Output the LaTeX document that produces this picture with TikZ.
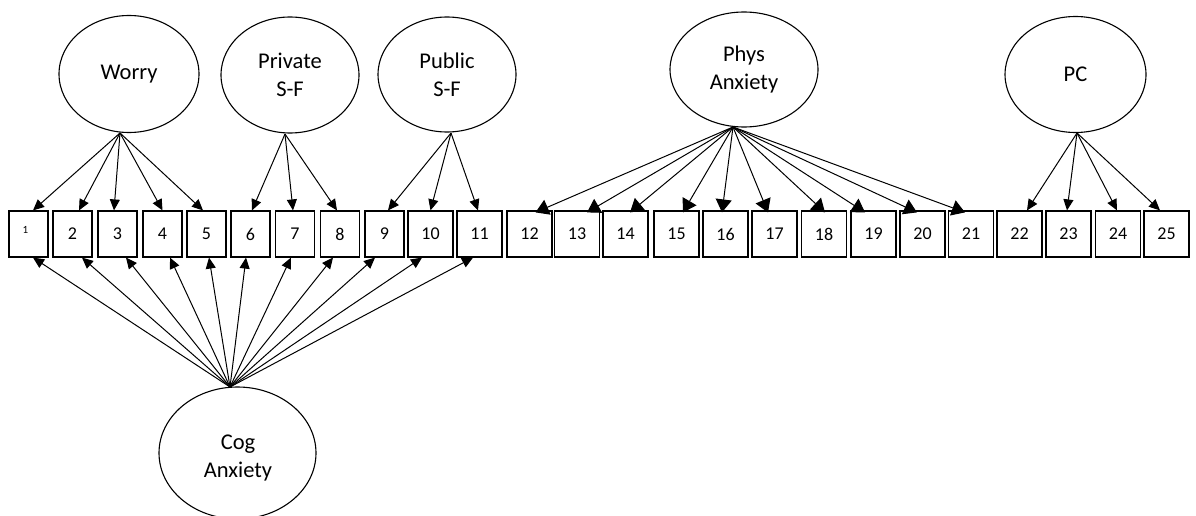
\documentclass[tikz,border=0pt]{standalone}
\usepackage{fontspec}
\setmainfont{Carlito}
\usetikzlibrary{arrows.meta,shapes.geometric}
\begin{document}
\begin{tikzpicture}[x=1pt,y=-1pt,
  latent/.style={draw,ellipse,line width=1.1pt,inner sep=0pt,align=center,font=\fontsize{22.5}{28}\selectfont},
  caption/.style={align=center,inner sep=0pt,font=\fontsize{22.5}{28}\selectfont},
  item/.style={draw,rectangle,line width=1.2pt,inner sep=0pt,minimum height=46pt,font=\fontsize{18}{18}\selectfont},
  narrow/.style={item,minimum width=39pt},
  wide/.style={item,minimum width=45pt},
  load/.style={line width=1pt,-{Triangle[length=11pt,width=10pt]}},
  bigload/.style={line width=1pt,-{Triangle[length=13pt,width=16pt]}}]
\useasboundingbox (0,0) rectangle (1196,516);

% latent factors
\node[latent,minimum width=140pt,minimum height=117pt] (worry) at (129,74) {Worry};
\node[latent,minimum width=138pt,minimum height=116pt] (priv) at (290,75) {Private\\S-F};
\node[latent,minimum width=138pt,minimum height=115pt] (pub) at (447,74.5) {Public\\S-F};
\node[latent,minimum width=148pt,minimum height=115pt] (phys) at (744,69.5) {Phys\\Anxiety};
\node[latent,minimum width=141pt,minimum height=116pt] (pc) at (1075.5,74.5) {PC};
\node[latent,minimum width=157pt,minimum height=132pt] (cog) at (237.5,453) {};
\node[caption] (cogt) at (238,458) {Cog\\Anxiety};

% fan origins
\coordinate (wo) at (120,133);
\coordinate (pro) at (285,134);
\coordinate (puo) at (451,133);
\coordinate (pho) at (733,127);
\coordinate (pco) at (1077,133);
\coordinate (co) at (230,387);

% indicators
\node[narrow] (b1) at (28.5,234) {};
\node[font=\fontsize{11}{11}\selectfont] (b1t) at ([xshift=-3pt,yshift=4pt]b1.center) {1};
\foreach \n/\x in {2/72.5,3/117.5,4/162.5,5/206.5,6/250.5,7/295,8/340,9/384.5}
  \node[narrow] (b\n) at (\x,234) {\n};
\foreach \n/\x in {10/430.5,11/479.5,12/529.5,13/577,14/625.5,15/676.5,16/725.5,17/774.5,18/824,19/873.5,20/922.5,21/971,22/1019.5,23/1068.5,24/1118,25/1166.5}
  \node[wide] (b\n) at (\x,234) {\n};

% loadings
\foreach \n/\d in {1/4.5,2/6.5,3/-3.5,4/0,5/-3.5}
  \draw[load] (wo) -- ([xshift=\d pt]b\n.north);
\foreach \n/\d in {6/1.5,7/-2,8/-3}
  \draw[load] (pro) -- ([xshift=\d pt]b\n.north);
\foreach \n/\d in {9/3.5,10/0,11/-1.5}
  \draw[load] (puo) -- ([xshift=\d pt]b\n.north);
\foreach \n/\d in {12/6,13/10,14/4.5,15/6.5,16/-3.5,17/-6.5,18/1,19/-8.5,20/-5.5,21/-6}
  \draw[bigload] (pho) -- ([xshift=\d pt,yshift=-2pt]b\n.north);
\foreach \n/\d in {22/7.5,23/-1.5,24/-1,25/-6.5}
  \draw[load] (pco) -- ([xshift=\d pt]b\n.north);
\foreach \n/\d in {1/4.5,2/9.5,3/8.5,4/7.5,5/2.5,6/-4.5,7/-4,8/-7,9/-9.5,10/-8.5,11/-6.5}
  \draw[load] (co) -- ([xshift=\d pt]b\n.south);
\end{tikzpicture}
\end{document}
